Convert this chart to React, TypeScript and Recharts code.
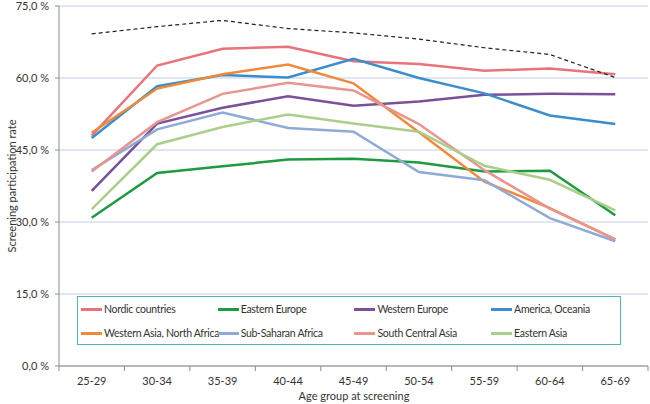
import { LineChart, Line, XAxis, YAxis, CartesianGrid } from 'recharts'

const ages = ['25-29', '30-34', '35-39', '40-44', '45-49', '50-54', '55-59', '60-64', '65-69']

const nordic = [48.0, 62.6, 66.1, 66.5, 63.5, 62.9, 61.5, 62.0, 60.8]
const easternEurope = [30.9, 40.2, 41.6, 43.0, 43.2, 42.4, 40.5, 40.7, 31.4]
const westernEurope = [36.5, 50.5, 53.8, 56.2, 54.2, 55.1, 56.5, 56.7, 56.6]
const americaOceania = [47.5, 58.3, 60.6, 60.1, 64.0, 60.0, 56.8, 52.2, 50.4]
const westernAsia = [48.6, 57.8, 60.8, 62.8, 58.9, 48.7, 38.4, 32.9, 26.4]
const subSaharan = [40.8, 49.3, 52.8, 49.6, 48.8, 40.4, 38.7, 30.8, 26.0]
const southCentralAsia = [40.5, 50.8, 56.7, 59.0, 57.4, 50.4, 40.8, 32.8, 26.4]
const easternAsia = [32.7, 46.2, 49.8, 52.4, 50.5, 48.8, 41.7, 38.8, 32.4]
const total = [69.2, 70.7, 72.0, 70.3, 69.4, 68.1, 66.3, 64.9, 60.1]

const yTicks = [0, 15, 30, 45, 60, 75]

const series = [
  { key: 'nordic', name: 'Nordic countries', values: nordic, color: '#e8737b' },
  { key: 'easternEurope', name: 'Eastern Europe', values: easternEurope, color: '#1e9a40' },
  { key: 'westernEurope', name: 'Western Europe', values: westernEurope, color: '#7b509a' },
  { key: 'americaOceania', name: 'America, Oceania', values: americaOceania, color: '#3b8ecb' },
  { key: 'westernAsia', name: 'Western Asia, North Africa', values: westernAsia, color: '#f08a3a' },
  { key: 'subSaharan', name: 'Sub-Saharan Africa', values: subSaharan, color: '#8eabd6' },
  { key: 'southCentralAsia', name: 'South Central Asia', values: southCentralAsia, color: '#e8948f' },
  { key: 'easternAsia', name: 'Eastern Asia', values: easternAsia, color: '#aacf8c' },
]

const data = ages.map((age, i) => {
  const row: Record<string, string | number> = { age, total: total[i] }
  series.forEach(s => { row[s.key] = s.values[i] })
  return row
})

const FONT = 'Lato, "Open Sans", sans-serif'
const HALF_BAND = 32.7

function AgeTick(props: any) {
  const { x, y, payload, index } = props
  const last = index === ages.length - 1
  return (
    <g>
      <line x1={x - HALF_BAND} x2={x - HALF_BAND} y1={y} y2={y + 5} stroke="#8c8c8c" />
      {last && <line x1={x + HALF_BAND} x2={x + HALF_BAND} y1={y} y2={y + 5} stroke="#8c8c8c" />}
      <text x={x} y={y + 14} textAnchor="middle" dominantBaseline="central" fontSize={11} fill="#333" fontFamily={FONT}>
        {payload.value}
      </text>
    </g>
  )
}

export default function App() {
  return (
    <div style={{ position: 'absolute', left: 0, top: 0, width: 650, height: 404, background: '#fff', fontFamily: FONT }}>
      <LineChart width={650} height={404} data={data} margin={{ top: 6, right: 2, left: 0, bottom: 0 }}>
        <CartesianGrid vertical={false} stroke="#bccfe6" />
        <XAxis
          dataKey="age"
          height={38}
          padding={{ left: HALF_BAND, right: HALF_BAND }}
          tickLine={false}
          tickSize={0}
          tickMargin={0}
          axisLine={{ stroke: '#8c8c8c' }}
          tick={<AgeTick />}
          interval={0}
          label={{
            content: () => (
              <text x={354} y={395} textAnchor="middle" dominantBaseline="central" fontSize={11} fill="#333" fontFamily={FONT}>
                Age group at screening
              </text>
            ),
          }}
        />
        <YAxis
          width={59}
          domain={[0, 75]}
          ticks={yTicks}
          interval={0}
          tickSize={4}
          tickMargin={6}
          axisLine={{ stroke: '#8c8c8c' }}
          tickLine={{ stroke: '#8c8c8c' }}
          tick={{ fontSize: 11, fill: '#333', fontFamily: FONT }}
          tickFormatter={(v: number) => `${v.toFixed(1).replace('.', ',')} %`}
          label={{
            content: () => (
              <text x={11} y={186} transform="rotate(-90 11 186)" textAnchor="middle" dominantBaseline="central" fontSize={11} fill="#333" fontFamily={FONT}>
                Screening participation rate
              </text>
            ),
          }}
        />
        {series.map(s => (
          <Line
            key={s.key}
            dataKey={s.key}
            stroke={s.color}
            strokeWidth={2.5}
            dot={false}
            isAnimationActive={false}
          />
        ))}
        <Line dataKey="total" stroke="#222" strokeWidth={1.2} strokeDasharray="4 3" dot={false} isAnimationActive={false} />
      </LineChart>

      {/* Legend */}
      <div
        style={{
          position: 'absolute', left: 77, top: 296, width: 544, height: 49,
          border: '1px solid #4fb7b1', boxSizing: 'border-box', background: '#fff',
        }}
      >
        {series.map((s, i) => (
          <div
            key={s.key}
            style={{
              position: 'absolute',
              left: 3 + (i % 4) * 136.7,
              top: i < 4 ? 5 : 29,
              height: 14,
              display: 'flex',
              alignItems: 'center',
              fontSize: 10.5,
              letterSpacing: -0.3,
              color: '#333',
              whiteSpace: 'nowrap',
            }}
          >
            <span style={{ display: 'inline-block', width: 21, height: 3, background: s.color, marginRight: 2 }} />
            {s.name}
          </div>
        ))}
      </div>
    </div>
  )
}
